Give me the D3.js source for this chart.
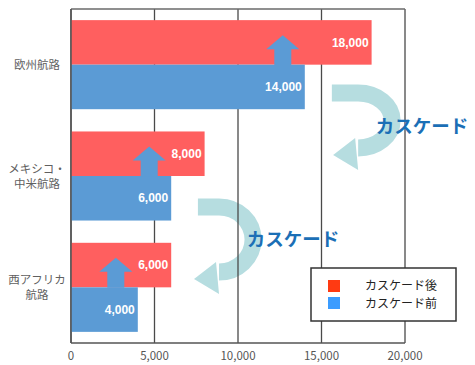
<!DOCTYPE html>
<html>
<head>
<meta charset="utf-8">
<script src="https://cdn.jsdelivr.net/npm/d3@7/dist/d3.min.js"></script>
<style>
  body { margin: 0; background: #fff; }
  text { font-family: "Noto Sans CJK JP", "Noto Sans", sans-serif; }
</style>
</head>
<body>
<div id="chart"></div>
<script>
// data
const categories = ["europe", "mexico", "westafrica"];
const categoryLines = [["欧州航路"], ["メキシコ・", "中米航路"], ["西アフリカ", "航路"]];
const seriesNames = ["カスケード後", "カスケード前"];
const afterValues = [18000, 8000, 6000];
const beforeValues = [14000, 6000, 4000];
const xTicks = [0, 5000, 10000, 15000, 20000];
const cascadeLabel = "カスケード";

const svgWidth = 475, svgHeight = 365;
const margin = {top: 9, right: 70, bottom: 22, left: 71};
const width = svgWidth - margin.left - margin.right,
      height = svgHeight - margin.top - margin.bottom;

const barColors = ["#ff5f5f", "#5b9bd5"];
const legendColors = ["#ff3a12", "#3b9cff"];
const curveColor = "#b6dde0";

const svg = d3.select("#chart").append("svg")
    .attr("width", svgWidth)
    .attr("height", svgHeight);

const g = svg.append("g")
    .attr("transform", "translate(" + margin.left + "," + margin.top + ")");

const x = d3.scaleLinear().domain([0, 20000]).range([0, width]);
const y = d3.scaleBand().domain(categories).range([0, height])
    .paddingInner(0.2).paddingOuter(0.1);
const ySeries = d3.scaleBand().domain(seriesNames).range([0, y.bandwidth()]);

// curved "cascade" arrows (drawn behind grid)
const curves = [
  {from: 15620, right: 19230, top: 84, bottom: 139},
  {from: 7600, right: 10900, top: 198, bottom: 263}
];
curves.forEach(function(c) {
  const x0 = x(c.from), xr = x(c.right);
  const ry = (c.bottom - c.top) / 2;
  const cx = xr - 34;
  const rx = xr - cx;
  g.append("path")
    .attr("d", "M" + x0 + "," + c.top + " H" + cx +
               " A" + rx + "," + ry + " 0 0 1 " + cx + "," + c.bottom)
    .attr("fill", "none")
    .attr("stroke", curveColor)
    .attr("stroke-width", 17);
  g.append("path")
    .attr("d", "M" + (cx - 3) + "," + (c.bottom - 10) +
               " L" + (cx) + "," + (c.bottom + 22) +
               " L" + (cx - 25) + "," + (c.bottom + 7) + "Z")
    .attr("fill", curveColor);
});

// grid lines
g.selectAll(".grid")
  .data(xTicks)
  .enter().append("line")
    .attr("x1", d => x(d)).attr("x2", d => x(d))
    .attr("y1", 0).attr("y2", height)
    .attr("stroke", "#4a4a4a")
    .attr("stroke-width", 1.3);
g.append("line")
    .attr("x1", 0).attr("x2", width).attr("y1", 0).attr("y2", 0)
    .attr("stroke", "#6a6a6a").attr("stroke-width", 1.3);

// bars
const rows = categories.map(function(c, i) {
  return {cat: c, values: [afterValues[i], beforeValues[i]]};
});

const groups = g.selectAll(".group")
  .data(rows)
  .enter().append("g")
    .attr("transform", d => "translate(0," + y(d.cat) + ")");

groups.selectAll("rect")
  .data(d => d.values.map((v, j) => ({s: seriesNames[j], v: v, j: j})))
  .enter().append("rect")
    .attr("x", 0)
    .attr("y", d => ySeries(d.s))
    .attr("width", d => x(d.v))
    .attr("height", ySeries.bandwidth())
    .attr("fill", d => barColors[d.j]);

// up arrows from before bar into after bar
groups.append("path")
    .attr("d", function(d) {
      const cx = x(d.values[1]) - 22;
      const tip = ySeries(seriesNames[0]) + 15;
      const base = tip + 14;
      const bottom = ySeries(seriesNames[1]) + 0.5;
      return "M" + cx + "," + tip +
             " L" + (cx + 16.5) + "," + base +
             " L" + (cx + 8.5) + "," + base +
             " L" + (cx + 8.5) + "," + bottom +
             " L" + (cx - 8.5) + "," + bottom +
             " L" + (cx - 8.5) + "," + base +
             " L" + (cx - 16.5) + "," + base + "Z";
    })
    .attr("fill", barColors[1]);

// value labels
groups.selectAll(".val")
  .data(d => d.values.map((v, j) => ({s: seriesNames[j], v: v})))
  .enter().append("text")
    .attr("x", d => x(d.v) - 3)
    .attr("y", d => ySeries(d.s) + ySeries.bandwidth() / 2)
    .attr("dy", "0.35em")
    .attr("text-anchor", "end")
    .style("font-family", "'Liberation Sans', Arial, sans-serif")
    .attr("font-size", "12px")
    .attr("font-weight", "bold")
    .attr("fill", "#fff")
    .text(d => d3.format(",")(d.v));

// axes frame
g.append("line").attr("x1", 0).attr("x2", 0).attr("y1", 0).attr("y2", height)
    .attr("stroke", "#555").attr("stroke-width", 1.5);
g.append("line").attr("x1", 0).attr("x2", width).attr("y1", height).attr("y2", height)
    .attr("stroke", "#555").attr("stroke-width", 1.5);

// x tick labels
g.selectAll(".xt")
  .data(xTicks)
  .enter().append("text")
    .attr("x", d => x(d))
    .attr("y", height + 17)
    .attr("text-anchor", "middle")
    .attr("font-size", "11.5px")
    .attr("fill", "#555")
    .text(d => d3.format(",")(d));

// category labels
categories.forEach(function(c, i) {
  const lines = categoryLines[i];
  const cy = y(c) + y.bandwidth() / 2;
  const t = svg.append("text")
    .attr("text-anchor", "middle")
    .attr("font-size", "11.5px")
    .attr("fill", "#606060");
  lines.forEach(function(l, k) {
    t.append("tspan")
      .attr("x", 37)
      .attr("y", margin.top + cy + (k - (lines.length - 1) / 2) * 15)
      .attr("dy", "0.35em")
      .text(l);
  });
});

// cascade labels
const cascadePos = [[422, 127], [293, 240]];
cascadePos.forEach(function(p) {
  svg.append("text")
    .attr("x", p[0]).attr("y", p[1])
    .attr("dy", "0.35em")
    .attr("text-anchor", "middle")
    .attr("font-size", "18.5px")
    .attr("font-weight", "bold")
    .attr("fill", "#1b6fb6")
    .text(cascadeLabel);
});

// legend
const legend = svg.append("g").attr("transform", "translate(311,268)");
legend.append("rect")
    .attr("width", 145).attr("height", 53)
    .attr("fill", "#fff")
    .attr("stroke", "#333").attr("stroke-width", 1.5);
seriesNames.forEach(function(s, i) {
  legend.append("rect")
    .attr("x", 17).attr("y", 12 + i * 17)
    .attr("width", 12).attr("height", 12)
    .attr("fill", legendColors[i]);
  legend.append("text")
    .attr("x", 54).attr("y", 18 + i * 17.6)
    .attr("dy", "0.35em")
    .attr("font-size", "12px")
    .attr("fill", "#222")
    .text(s);
});
</script>
</body>
</html>
